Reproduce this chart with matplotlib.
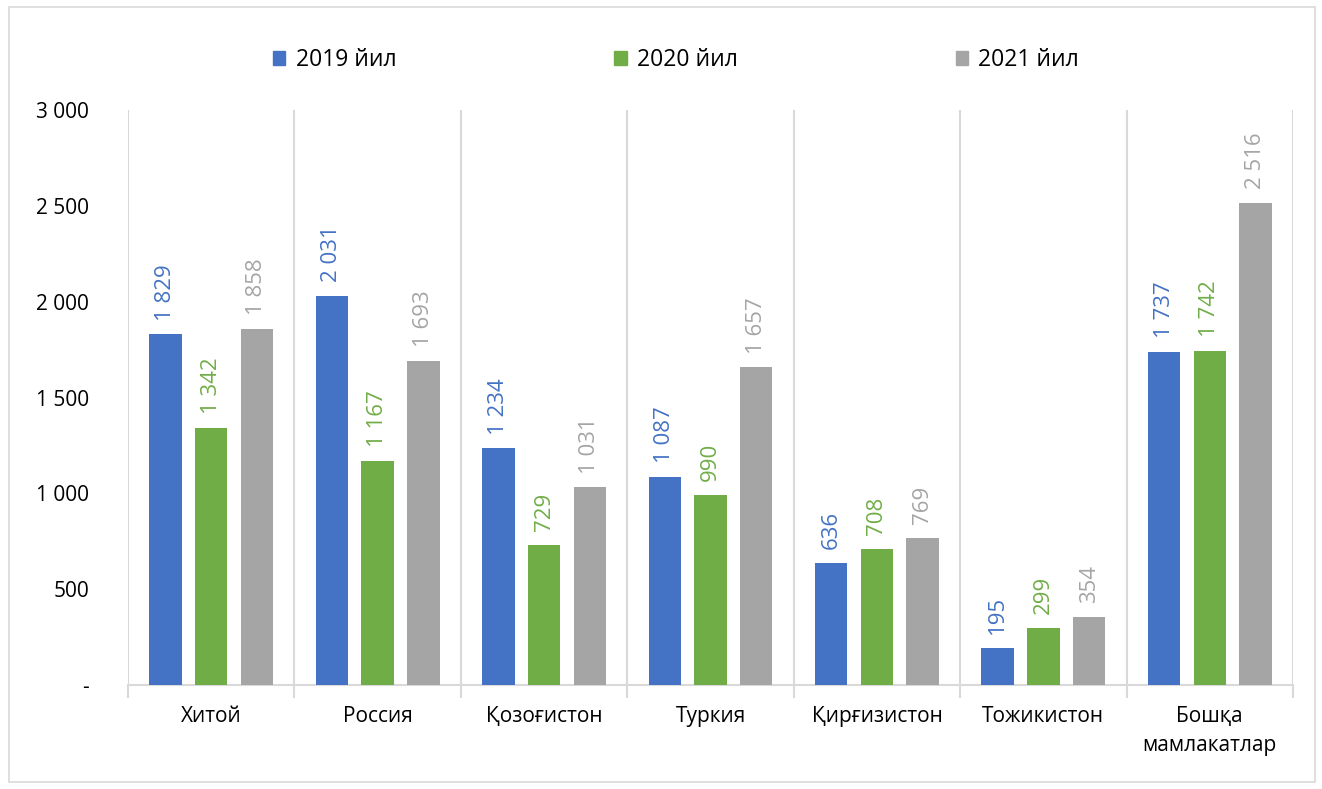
import matplotlib
matplotlib.use("Agg")
import matplotlib.pyplot as plt
from matplotlib.patches import Rectangle, Patch
import numpy as np

plt.rcParams['font.family'] = ['Open Sans', 'Noto Sans', 'DejaVu Sans']

categories = ["Хитой", "Россия", "Қозоғистон", "Туркия", "Қирғизистон", "Тожикистон", "Бошқа\nмамлакатлар"]
series_names = ["2019 йил", "2020 йил", "2021 йил"]
v2019 = [1829, 2031, 1234, 1087, 636, 195, 1737]
v2020 = [1342, 1167, 729, 990, 708, 299, 1742]
v2021 = [1858, 1693, 1031, 1657, 769, 354, 2516]
yticks = [0, 500, 1000, 1500, 2000, 2500, 3000]
ytick_labels = ["-", "500", "1 000", "1 500", "2 000", "2 500", "3 000"]

colors = ["#4472C4", "#70AD47", "#A5A5A5"]

W, H = 1322, 789
fig = plt.figure(figsize=(W / 100, H / 100), dpi=100)
fig.patches.append(Rectangle((9 / W, 1 - 782 / H), (1315 - 9) / W, (782 - 7) / H,
                             transform=fig.transFigure, fill=False,
                             edgecolor="#D9D9D9", linewidth=1.2))

ax = fig.add_axes([128 / W, 1 - 685 / H, (1293 - 128) / W, (685 - 110) / H])
x = np.arange(len(categories))
bw = 0.195
offs = [-0.275, 0, 0.275]
fs_lab = 16
fs_tick = 15
for vals, off, c, name in zip([v2019, v2020, v2021], offs, colors, series_names):
    ax.bar(x + off, vals, width=bw, color=c, label=name, zorder=3)
    for xi, v in zip(x, vals):
        s = f"{v:,}".replace(",", " ")
        ax.annotate(s, (xi + off, v), xytext=(0, 10), textcoords="offset points",
                    rotation=90, ha="center", va="bottom", color=c, fontsize=fs_lab)

ax.set_xlim(-0.5, len(categories) - 0.5)
ax.set_ylim(0, 3000)
ax.set_yticks(yticks)
ax.set_yticklabels(ytick_labels, fontsize=fs_tick)
ax.tick_params(axis="y", length=0, pad=28)

ax.set_xticks(x)
ax.set_xticklabels(categories, fontsize=fs_tick, linespacing=1.5)
ax.set_xticks(np.arange(len(categories) + 1) - 0.5, minor=True)
ax.tick_params(axis="x", which="major", length=0, pad=15)
ax.tick_params(axis="x", which="minor", length=9, color="#D9D9D9", width=1.5)
ax.grid(axis="x", which="minor", color="#D9D9D9", linewidth=1.5, zorder=0)
ax.grid(axis="x", which="major", visible=False)

for sp in ["top", "right", "left"]:
    ax.spines[sp].set_visible(False)
ax.spines["bottom"].set_color("#D9D9D9")
ax.spines["bottom"].set_linewidth(1.5)

handles = [Patch(color=c) for c in colors]
fig.legend(handles, series_names, loc="center", bbox_to_anchor=(676 / W, 1 - 60 / H),
           ncol=3, frameon=False, fontsize=16.5, handlelength=0.55, handleheight=0.55,
           handletextpad=0.45, columnspacing=9.5)

fig.savefig("out.png", dpi=100, facecolor="white")
